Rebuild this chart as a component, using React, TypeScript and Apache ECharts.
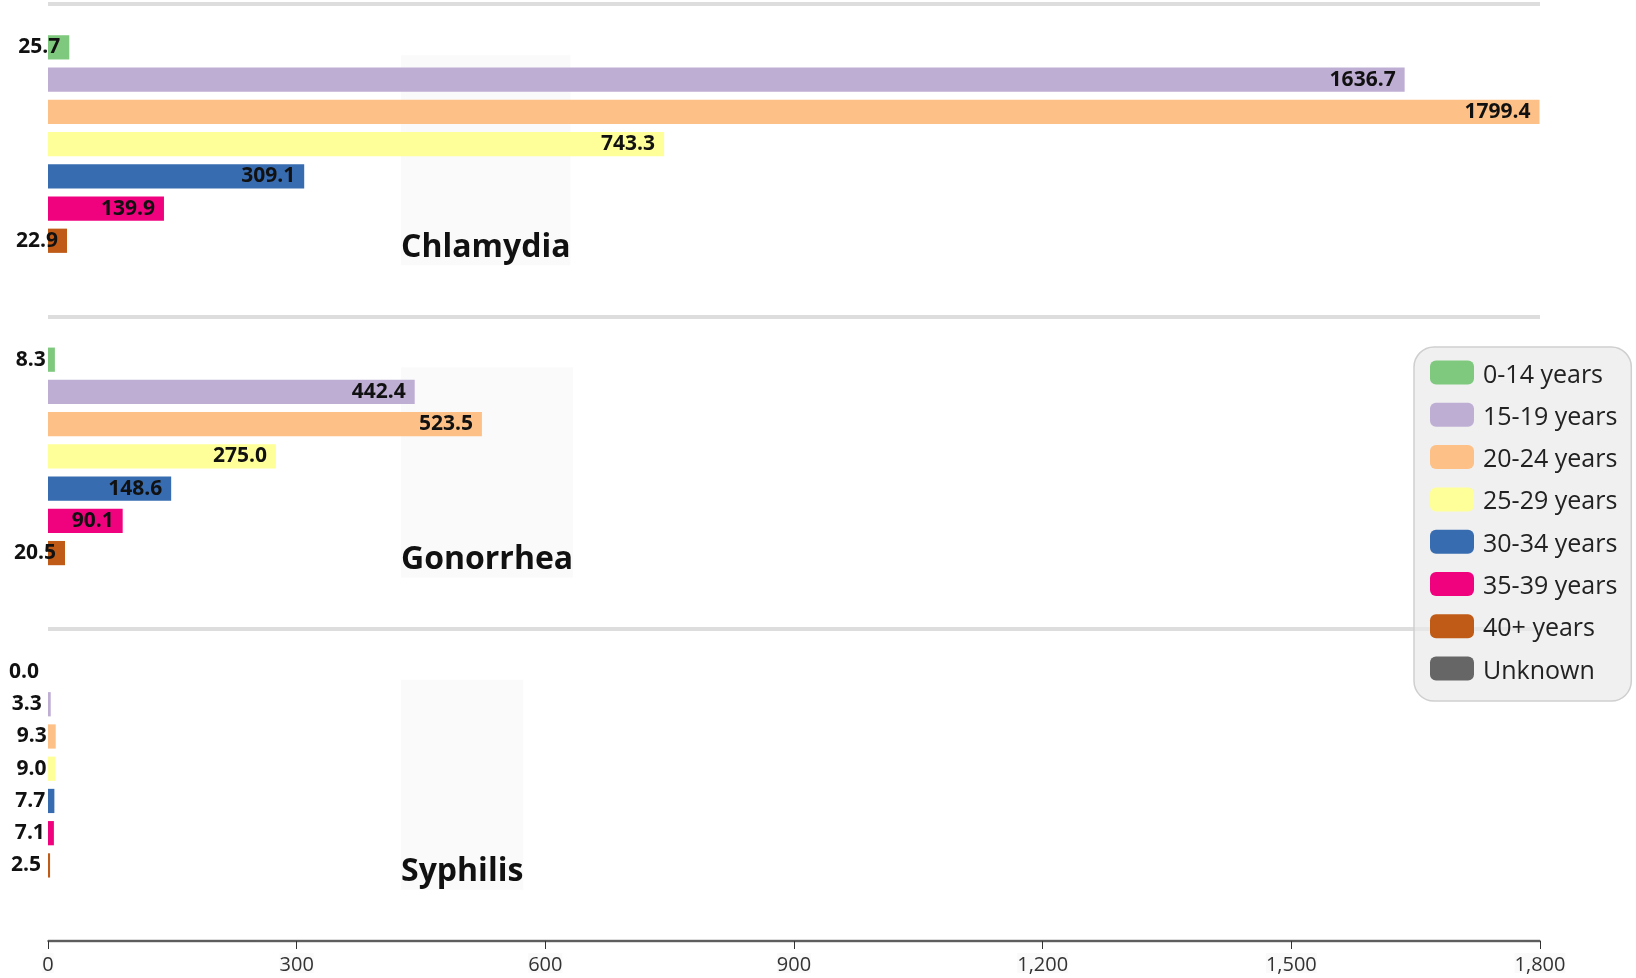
import React, { useEffect, useRef } from "react";
import * as echarts from "echarts";

const categories = ["Chlamydia", "Gonorrhea", "Syphilis"];
const ageGroups = [
  "0-14 years",
  "15-19 years",
  "20-24 years",
  "25-29 years",
  "30-34 years",
  "35-39 years",
  "40+ years",
  "Unknown",
];
const age0to14 = [25.7, 8.3, 0.0];
const age15to19 = [1636.7, 442.4, 3.3];
const age20to24 = [1799.4, 523.5, 9.3];
const age25to29 = [743.3, 275.0, 9.0];
const age30to34 = [309.1, 148.6, 7.7];
const age35to39 = [139.9, 90.1, 7.1];
const age40plus = [22.9, 20.5, 2.5];
const ageUnknown: (number | null)[] = [null, null, null];
const seriesValues = [
  age0to14,
  age15to19,
  age20to24,
  age25to29,
  age30to34,
  age35to39,
  age40plus,
  ageUnknown,
];
const palette = [
  "#7fc97f",
  "#beaed4",
  "#fdc086",
  "#ffff99",
  "#386cb0",
  "#f0027f",
  "#bf5b17",
  "#666666",
];
const xTicks = { min: 0, max: 1800, interval: 300 };

const FONT = "'Open Sans', 'Noto Sans', sans-serif";

export default function App() {
  const ref = useRef<HTMLDivElement>(null);
  useEffect(() => {
    if (!ref.current) return;
    const chart = echarts.init(ref.current, null, { renderer: "svg" });
    chart.setOption({
      animation: false,
      color: palette,
      textStyle: { fontFamily: FONT },
      grid: { left: 48, right: 96, top: 4, bottom: 37, containLabel: false },
      legend: {
        data: ageGroups,
        orient: "vertical",
        left: 1414,
        top: 347,
        icon: "roundRect",
        itemWidth: 44,
        itemHeight: 24,
        itemGap: 17.3,
        padding: [13, 14, 20, 16],
        backgroundColor: "rgba(233,233,233,0.7)",
        borderColor: "#cfcfcf",
        borderWidth: 1.5,
        borderRadius: 20,
        textStyle: {
          fontSize: 25,
          lineHeight: 24,
          color: "#222",
          fontFamily: FONT,
          padding: [0, 0, 0, 4],
        },
      },
      xAxis: {
        type: "value",
        min: xTicks.min,
        max: xTicks.max,
        interval: xTicks.interval,
        splitLine: { show: false },
        axisLine: { show: true, lineStyle: { color: "#333", width: 1.5 } },
        axisTick: { show: true, length: 8, lineStyle: { color: "#333" } },
        axisLabel: {
          fontSize: 20,
          color: "#333",
          margin: 12,
          fontFamily: FONT,
          backgroundColor: "#fafafa",
          formatter: (v: number) => v.toLocaleString("en-US"),
        },
      },
      yAxis: {
        type: "category",
        data: categories,
        inverse: true,
        axisLine: { show: false },
        axisTick: { show: false },
        splitLine: { show: true, lineStyle: { color: "#dddddd", width: 4 } },
        axisLabel: {
          inside: true,
          margin: 353,
          fontSize: 32,
          fontWeight: "bold",
          color: "#111",
          fontFamily: FONT,
          backgroundColor: "#fafafa",
          lineHeight: 42,
          formatter: (v: string) => "\n\n\n\n" + v,
        },
      },
      series: ageGroups.map((name, i) => ({
        name,
        type: "bar",
        data: seriesValues[i],
        barCategoryGap: "20%",
        barGap: "33%",
        itemStyle: { color: palette[i] },
        label: {
          show: true,
          position: "insideRight",
          distance: 9,
          offset: [0, -2],
          fontSize: 21,
          fontWeight: "bold",
          color: "#111",
          fontFamily: FONT,
          formatter: (p: any) =>
            p.value == null ? "" : Number(p.value).toFixed(1),
        },
      })),
    });
    return () => chart.dispose();
  }, []);
  return (
    <div
      ref={ref}
      style={{ position: "fixed", left: 0, top: 0, width: 1636, height: 978 }}
    />
  );
}
